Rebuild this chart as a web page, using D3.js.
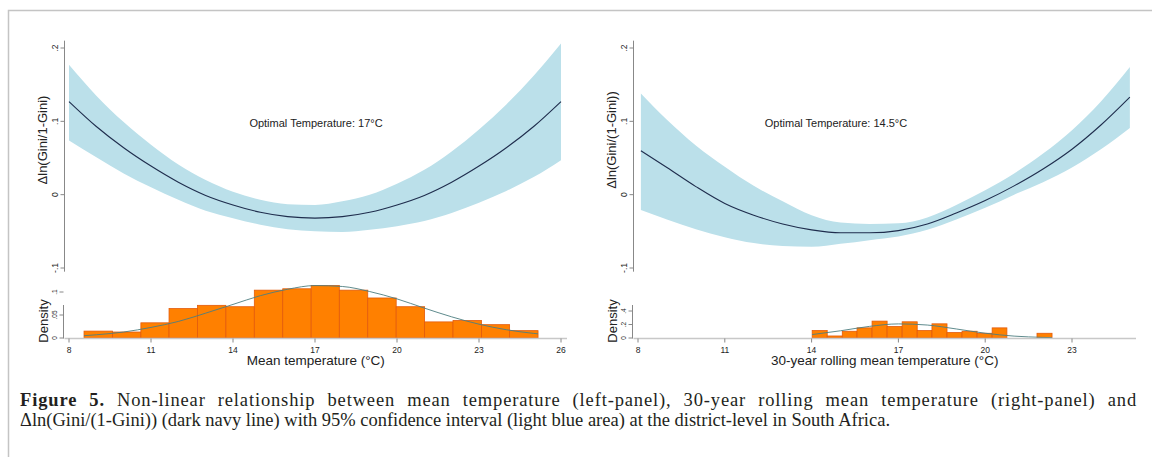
<!DOCTYPE html>
<html>
<head>
<meta charset="utf-8">
<script src="https://d3js.org/d3.v7.min.js"></script>
<style>
  body { margin: 0; background: #fff; }
  svg text { font-family: "Liberation Sans", Arial, sans-serif; fill: #222; }
  .caption text { font-family: "Liberation Serif", "Times New Roman", serif; fill: #231f20; }
</style>
</head>
<body>
<svg id="chart" width="1152" height="457"></svg>
<script>
// ---- left panel: mean temperature ----
var tempL = [8, 9, 10, 11, 12, 13, 14, 15, 16, 17, 18, 19, 20, 21, 22, 23, 24, 25, 26];
var fitL  = [0.127, 0.093, 0.064, 0.039, 0.017, -0.001, -0.014, -0.024, -0.030, -0.032, -0.030, -0.024, -0.014, -0.001, 0.017, 0.039, 0.064, 0.093, 0.127];
var upL   = [0.177, 0.135, 0.099, 0.068, 0.041, 0.020, 0.004, -0.007, -0.013, -0.014, -0.009, 0.000, 0.015, 0.034, 0.059, 0.089, 0.123, 0.162, 0.206];
var loL   = [0.074, 0.051, 0.029, 0.010, -0.007, -0.022, -0.032, -0.041, -0.047, -0.050, -0.051, -0.048, -0.043, -0.036, -0.025, -0.011, 0.005, 0.024, 0.047];
var binEdgesL = [8.55, 9.59, 10.63, 11.66, 12.70, 13.74, 14.78, 15.82, 16.86, 17.89, 18.93, 19.97, 21.01, 22.05, 23.09, 24.12, 25.16];
var densL = [0.015, 0.013, 0.033, 0.064, 0.071, 0.068, 0.104, 0.107, 0.114, 0.104, 0.087, 0.068, 0.035, 0.038, 0.029, 0.016];
var kdeTempL = [8.55, 9, 10, 11, 12, 13, 14, 15, 16, 17, 18, 19, 20, 21, 22, 23, 24, 25, 25.16];
var kdeL = [0.005, 0.007, 0.013, 0.023, 0.036, 0.054, 0.073, 0.092, 0.106, 0.114, 0.112, 0.101, 0.085, 0.065, 0.046, 0.030, 0.018, 0.010, 0.009];

// ---- right panel: 30-year rolling mean temperature ----
var tempR = [8.1, 9, 10, 11, 12, 13, 14, 15, 16, 17, 18, 19, 20, 21, 22, 23, 24, 25];
var fitR  = [0.060, 0.037, 0.011, -0.012, -0.028, -0.040, -0.048, -0.052, -0.052, -0.049, -0.040, -0.025, -0.008, 0.012, 0.035, 0.062, 0.095, 0.133];
var upR   = [0.138, 0.102, 0.067, 0.038, 0.012, -0.009, -0.028, -0.038, -0.040, -0.039, -0.031, -0.014, 0.006, 0.029, 0.056, 0.088, 0.127, 0.174];
var loR   = [-0.021, -0.034, -0.047, -0.058, -0.066, -0.070, -0.071, -0.067, -0.062, -0.057, -0.048, -0.034, -0.018, 0.000, 0.017, 0.037, 0.062, 0.091];
var binEdgesR = [14.02, 14.54, 15.06, 15.57, 16.09, 16.61, 17.13, 17.65, 18.16, 18.68, 19.20, 19.72, 20.24, 20.75, 21.27, 21.79, 22.31];
var densR = [0.11, 0.03, 0.10, 0.15, 0.25, 0.17, 0.24, 0.11, 0.21, 0.08, 0.10, 0.07, 0.15, 0, 0, 0.07];
var kdeTempR = [14.02, 15, 16, 17, 18, 19, 20, 21, 22, 22.31];
var kdeR = [0.051, 0.107, 0.172, 0.209, 0.192, 0.134, 0.071, 0.028, 0.009, 0.005];

// ---- tick labels ----
var yTicksTop = [-0.1, 0, 0.1, 0.2];
var yTickTextTop = ["-.1", "0", ".1", ".2"];
var xTicksL = [8, 11, 14, 17, 20, 23, 26];
var xTicksR = [8, 11, 14, 17, 20, 23];
var dTicksL = [0, 0.05, 0.1], dTickTextL = ["0", ".05", ".1"];
var dTicksR = [0, 0.2, 0.4], dTickTextR = ["0", ".2", ".4"];

var svg = d3.select("#chart");

// frame
svg.append("path")
  .attr("d", "M8.5,457 V10.5 H1152")
  .attr("fill", "none").attr("stroke", "#c4c4c4").attr("stroke-width", 1.5);

function drawPanel(p) {
  var x = d3.scaleLinear().domain(p.xDomain).range(p.xRange);
  var y = d3.scaleLinear().domain([-0.1, 0.2]).range([268, 48]);
  var yd = d3.scaleLinear().domain([0, p.dTicks[1]]).range([338, p.dPx]);
  var ax = p.axisX;

  var g = svg.append("g");

  // confidence band
  var area = d3.area()
    .x(function(d, i) { return x(p.temp[i]); })
    .y0(function(d, i) { return y(p.lo[i]); })
    .y1(function(d, i) { return y(p.up[i]); })
    .curve(d3.curveMonotoneX);
  g.append("path").datum(p.fit).attr("d", area).attr("fill", "#bbe0ea");

  // fitted line
  var line = d3.line()
    .x(function(d, i) { return x(p.temp[i]); })
    .y(function(d) { return y(d); })
    .curve(d3.curveMonotoneX);
  g.append("path").datum(p.fit).attr("d", line)
    .attr("fill", "none").attr("stroke", "#1f2d4d").attr("stroke-width", 1.1);

  // y axis (top plot)
  g.append("line").attr("x1", ax).attr("x2", ax).attr("y1", y(0.21)).attr("y2", y(-0.105))
    .attr("stroke", "#888").attr("stroke-width", 1);
  yTicksTop.forEach(function(t, i) {
    g.append("line").attr("x1", ax - 4).attr("x2", ax).attr("y1", y(t)).attr("y2", y(t))
      .attr("stroke", "#888");
    g.append("text")
      .attr("transform", "translate(" + (ax - 7) + "," + y(t) + ") rotate(-90)")
      .attr("text-anchor", "middle").attr("font-size", 8.5).attr("fill", "#333")
      .text(yTickTextTop[i]);
  });
  g.append("text")
    .attr("transform", "translate(" + (ax - 18) + ",140) rotate(-90)")
    .attr("text-anchor", "middle").attr("font-size", 13)
    .text(p.yTitle);

  g.append("text").attr("x", p.optX).attr("y", 127)
    .attr("text-anchor", "middle").attr("font-size", 11)
    .text(p.optText);

  // histogram
  var bins = p.dens.map(function(v, i) { return { x0: p.edges[i], x1: p.edges[i + 1], v: v }; })
    .filter(function(b) { return b.v > 0; });
  g.selectAll("rect.bar").data(bins).enter().append("rect")
    .attr("class", "bar")
    .attr("x", function(b) { return x(b.x0); })
    .attr("width", function(b) { return x(b.x1) - x(b.x0); })
    .attr("y", function(b) { return yd(b.v); })
    .attr("height", function(b) { return yd(0) - yd(b.v); })
    .attr("fill", "#ff8000").attr("stroke", "#e35a0a").attr("stroke-width", 0.8);

  // density curve
  var kline = d3.line()
    .x(function(d, i) { return x(p.kdeTemp[i]); })
    .y(function(d) { return yd(d); })
    .curve(d3.curveMonotoneX);
  g.append("path").datum(p.kde).attr("d", kline)
    .attr("fill", "none").attr("stroke", "#4d7e80").attr("stroke-width", 0.9);

  // x axis of histogram
  g.append("line").attr("x1", ax).attr("x2", p.xEnd).attr("y1", 338.5).attr("y2", 338.5)
    .attr("stroke", "#c8c8c8").attr("stroke-width", 1.6);
  p.xTicks.forEach(function(t) {
    g.append("line").attr("x1", x(t)).attr("x2", x(t)).attr("y1", 338.5).attr("y2", 342.5)
      .attr("stroke", "#888");
    g.append("text").attr("x", x(t)).attr("y", 352.5)
      .attr("text-anchor", "middle").attr("font-size", 8.5).attr("fill", "#333")
      .text(t);
  });
  g.append("text").attr("x", (ax + p.xEnd) / 2).attr("y", 365)
    .attr("text-anchor", "middle").attr("font-size", 13.5)
    .text(p.xTitle);

  // y axis of histogram
  g.append("line").attr("x1", ax - 1).attr("x2", ax - 1).attr("y1", 305).attr("y2", 338.5)
    .attr("stroke", "#888");
  p.dTicks.forEach(function(t, i) {
    g.append("line").attr("x1", ax - 5).attr("x2", ax - 1).attr("y1", yd(t)).attr("y2", yd(t))
      .attr("stroke", "#888");
    g.append("text")
      .attr("transform", "translate(" + (ax - 8) + "," + yd(t) + ") rotate(-90)")
      .attr("text-anchor", "middle").attr("font-size", 6.5).attr("fill", "#333")
      .text(p.dTickText[i]);
  });
  g.append("text")
    .attr("transform", "translate(" + (ax - 17) + ",321) rotate(-90)")
    .attr("text-anchor", "middle").attr("font-size", 13)
    .text("Density");
}

drawPanel({
  xDomain: [8, 26], xRange: [69, 561], axisX: 64.5, xEnd: 567,
  temp: tempL, fit: fitL, up: upL, lo: loL,
  edges: binEdgesL, dens: densL, kdeTemp: kdeTempL, kde: kdeL,
  xTicks: xTicksL, dTicks: dTicksL, dTickText: dTickTextL, dPx: 315,
  yTitle: "\u0394ln(Gini/1-Gini)", optText: "Optimal Temperature: 17\u00b0C", optX: 316,
  xTitle: "Mean temperature (\u00b0C)"
});

drawPanel({
  xDomain: [8, 23], xRange: [638, 1072], axisX: 633.5, xEnd: 1136,
  temp: tempR, fit: fitR, up: upR, lo: loR,
  edges: binEdgesR, dens: densR, kdeTemp: kdeTempR, kde: kdeR,
  xTicks: xTicksR, dTicks: dTicksR, dTickText: dTickTextR, dPx: 324.5,
  yTitle: "\u0394ln(Gini/(1-Gini))", optText: "Optimal Temperature: 14.5\u00b0C", optX: 836,
  xTitle: "30-year rolling mean temperature (\u00b0C)"
});

// caption: first line stretched to the column width, last line natural
var cap = svg.append("g").attr("class", "caption");
var l1 = cap.append("text").attr("x", 20).attr("y", 406).attr("font-size", 18.5);
l1.append("tspan").attr("font-weight", "bold").text("Figure 5.");
l1.append("tspan").text(" Non-linear relationship between mean temperature (left-panel), 30-year rolling mean temperature (right-panel) and");
var natural = l1.node().getComputedTextLength();
var txt = l1.text();
var gaps = txt.split(" ").length - 1;
var extra = Math.max(0, 1117 - natural);
l1.style("letter-spacing", (0.55 * extra / txt.length) + "px")
  .style("word-spacing", (0.45 * extra / gaps) + "px");
var l2 = cap.append("text").attr("x", 20).attr("y", 426).attr("font-size", 18.5)
  .text("\u0394ln(Gini/(1-Gini)) (dark navy line) with 95% confidence interval (light blue area) at the district-level in South Africa.");
var n2 = l2.node().getComputedTextLength();
l2.attr("textLength", 870).attr("lengthAdjust", "spacing");
</script>
</body>
</html>
